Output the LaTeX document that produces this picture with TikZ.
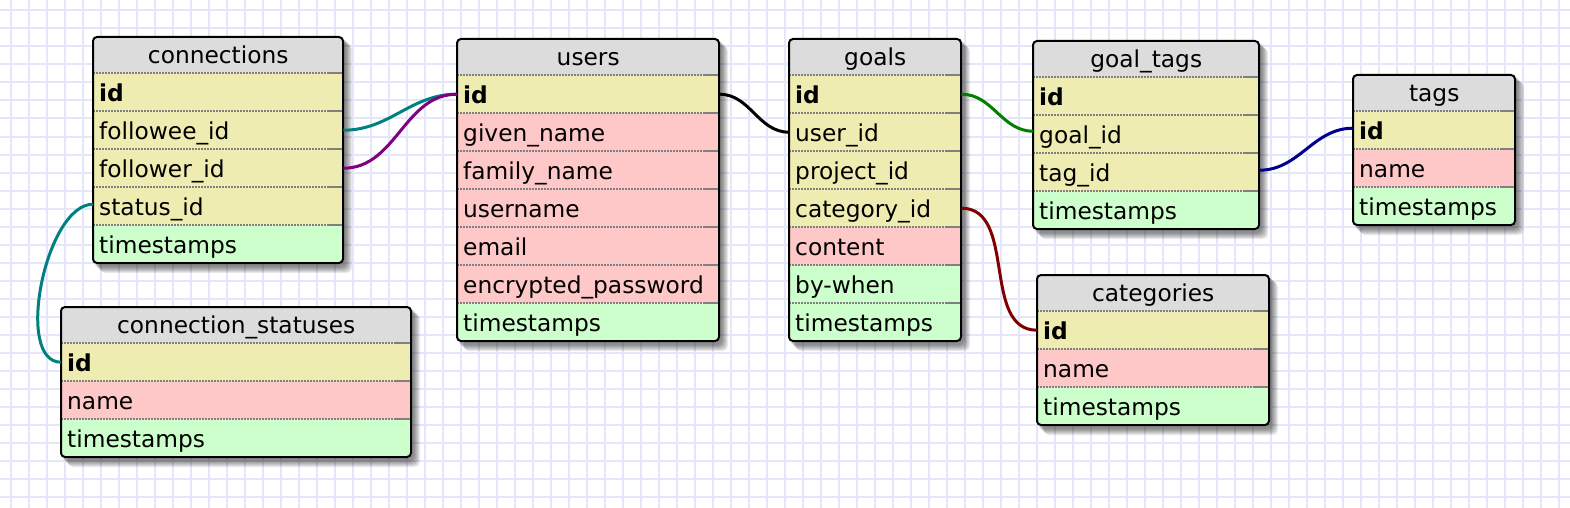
\documentclass[tikz,border=0pt]{standalone}
\usepackage{fontspec}
\setmainfont{DejaVu Sans}

\definecolor{gridcol}{RGB}{230,230,250}
\definecolor{headrow}{RGB}{220,220,220}
\definecolor{keyrow}{RGB}{238,236,176}
\definecolor{attrrow}{RGB}{255,200,200}
\definecolor{metarow}{RGB}{204,255,204}
\definecolor{linkteal}{RGB}{0,128,128}
\definecolor{linkpurple}{RGB}{128,0,128}
\definecolor{linkgreen}{RGB}{0,128,0}
\definecolor{linknavy}{RGB}{0,0,140}
\definecolor{linkred}{RGB}{128,0,0}

\newcommand{\tablefont}{\fontsize{23.3}{28}\selectfont}

\tikzset{
    gridline/.style={gridcol, line width=2pt},
    tablehead/.style={fill=headrow, minimum height=36pt, inner sep=0pt,
        text height=20pt, text depth=3.4pt, font=\tablefont},
    tablerow/.style={minimum height=38pt, inner xsep=6pt, inner ysep=0pt,
        text height=21pt, text depth=2.4pt, font=\tablefont, align=left},
    rowrule/.style={gray, line width=1.5pt, dash pattern=on 1.5pt off 1.5pt},
    rowend/.style={gray, line width=1.5pt},
    tableframe/.style={black, line width=2pt, rounded corners=4pt},
    tableshadow/.style={black, opacity=0.08, rounded corners=5pt},
    link/.style={line width=3pt, out=0, in=180},
}

% name, left, right, top, rows, title, kind/field list
\newcommand{\erdtable}[7]{%
    \pgfmathsetmacro\tabw{#3-#2}
    \pgfmathsetmacro\tabtw{#3-#2-12}
    \pgfmathsetmacro\tabb{#4+36+38*#5}
    \foreach \s in {1,...,7}
        \fill[tableshadow] (#2+\s,#4+\s) rectangle (#3+2+\s,\tabb+3+\s);
    \begin{scope}
        \clip[rounded corners=4pt] (#2,#4) rectangle (#3,\tabb);
        \node[tablehead, minimum width=\tabw pt, anchor=north west] (#1) at (#2,#4) {#6};
        \foreach \kind/\field [count=\i] in {#7}
            \node[tablerow, fill=\kind, text width=\tabtw pt, anchor=north west]
                (#1-\i) at (#2,#4+36+38*\i-38) {\field};
    \end{scope}
    \foreach \i in {1,...,#5} {
        \draw[rowrule] (#1-\i.north west) -- ([xshift=-15pt]#1-\i.north east);
        \draw[rowend] ([xshift=-15pt]#1-\i.north east) -- (#1-\i.north east);
    }
    \draw[tableframe] (#2,#4) rectangle (#3,\tabb);
}

\begin{document}
\begin{tikzpicture}[x=1pt, y=-1pt]
    \useasboundingbox (0,0) rectangle (1570,508);
    \fill[white] (0,0) rectangle (1570,508);
    % grid paper
    \foreach \gx in {0,...,86}
        \draw[gridline] (10.7+18*\gx,0) -- (10.7+18*\gx,508);
    \foreach \gy in {0,...,27}
        \draw[gridline] (0,10.5+18*\gy) -- (1570,10.5+18*\gy);

    \erdtable{connections}{93}{343}{37}{5}{connections}
        {keyrow/\textbf{id}, keyrow/followee\_id, keyrow/follower\_id,
         keyrow/status\_id, metarow/timestamps}
    \erdtable{connstatuses}{61}{411}{307}{3}{connection\_statuses}
        {keyrow/\textbf{id}, attrrow/name, metarow/timestamps}
    \erdtable{users}{457}{719}{39}{7}{users}
        {keyrow/\textbf{id}, attrrow/given\_name, attrrow/family\_name,
         attrrow/username, attrrow/email, attrrow/encrypted\_password,
         metarow/timestamps}
    \erdtable{goals}{789}{961}{39}{7}{goals}
        {keyrow/\textbf{id}, keyrow/user\_id, keyrow/project\_id,
         keyrow/category\_id, attrrow/content, metarow/by-when,
         metarow/timestamps}
    \erdtable{goaltags}{1033}{1259}{41}{4}{goal\_tags}
        {keyrow/\textbf{id}, keyrow/goal\_id, keyrow/tag\_id, metarow/timestamps}
    \erdtable{tags}{1353}{1515}{75}{3}{tags}
        {keyrow/\textbf{id}, attrrow/name, metarow/timestamps}
    \erdtable{categories}{1037}{1269}{275}{3}{categories}
        {keyrow/\textbf{id}, attrrow/name, metarow/timestamps}

    % relations
    \draw[link, linkteal] (connections-2.east) to (users-1.west);
    \draw[link, linkpurple] (connections-3.east) to (users-1.west);
    \draw[link, black] (users-1.east) to (goals-2.west);
    \draw[link, linkgreen] (goals-1.east) to ([yshift=3pt]goaltags-2.west);
    \draw[link, linknavy] ([yshift=2pt]goaltags-3.east) to ([yshift=2pt]tags-1.west);
    \draw[link, linkred] (goals-4.east) to (categories-1.west);
    \draw[link, linkteal, out=180, in=180, looseness=0.75]
        ([yshift=2pt]connections-4.west) to (connstatuses-1.west);
\end{tikzpicture}
\end{document}
